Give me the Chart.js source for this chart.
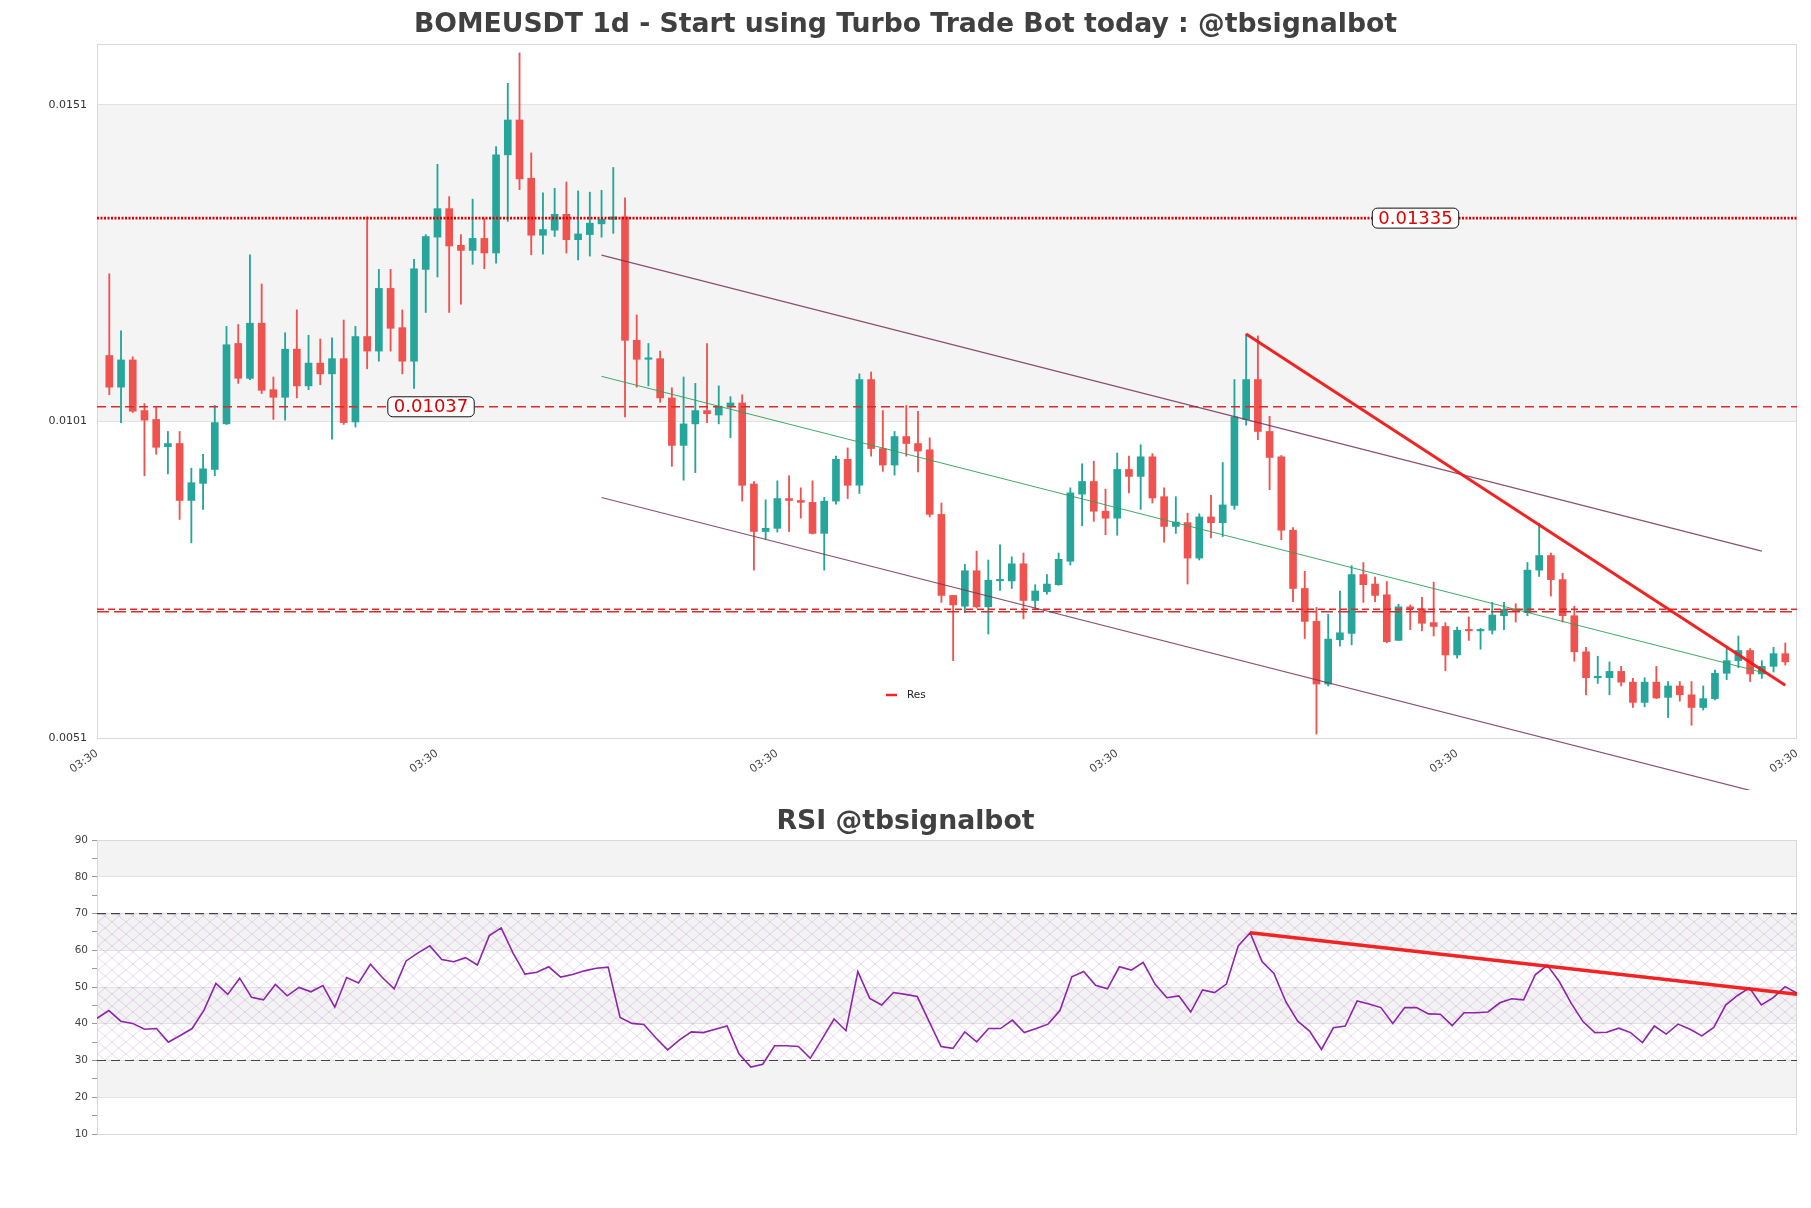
<!DOCTYPE html>
<html>
<head>
<meta charset="utf-8">
<title>BOMEUSDT 1d</title>
<script src="https://cdn.jsdelivr.net/npm/chart.js@4.4.1/dist/chart.umd.min.js"></script>
<style>
  html, body { margin: 0; padding: 0; background: #fff; }
  #wrap { position: relative; width: 1811px; height: 1208px; }
  .panel { position: absolute; left: 0; width: 1811px; }
  #main-box { top: 0; height: 790px; }
  #rsi-box { top: 790px; height: 418px; }
</style>
</head>
<body>
<div id="wrap">
  <div class="panel" id="main-box"><canvas id="main-chart"></canvas></div>
  <div class="panel" id="rsi-box"><canvas id="rsi-chart"></canvas></div>
</div>
<script>
// ---- data (daily candles, oldest first) ----
const openP = [
  0.01118,0.01068,0.01111,0.01031,0.01017,0.00974,0.00979,0.00889,0.00916,0.00938,0.01010,0.01137,
  0.01082,0.01169,0.01064,0.01052,0.01128,0.01070,0.01106,0.01089,0.01113,0.01013,0.01148,0.01125,
  0.01224,0.01162,0.01109,0.01254,0.01305,0.01350,0.01292,0.01284,0.01303,0.01280,0.01435,0.01490,
  0.01398,0.01308,0.01316,0.01341,0.01301,0.01309,0.01326,0.01333,0.01337,0.01142,0.01112,0.01113,
  0.01051,0.00976,0.01010,0.01031,0.01024,0.01037,0.01043,0.00915,0.00840,0.00845,0.00892,0.00889,
  0.00886,0.00837,0.00888,0.00954,0.00913,0.01080,0.00971,0.00945,0.00990,0.00979,0.00969,0.00867,
  0.00739,0.00722,0.00778,0.00721,0.00762,0.00762,0.00789,0.00731,0.00745,0.00756,0.00793,0.00899,
  0.00919,0.00872,0.00861,0.00938,0.00927,0.00958,0.00895,0.00848,0.00854,0.00798,0.00863,0.00854,
  0.00881,0.01017,0.01080,0.00998,0.00958,0.00842,0.00750,0.00698,0.00599,0.00669,0.00679,0.00772,
  0.00757,0.00740,0.00668,0.00721,0.00718,0.00696,0.00690,0.00645,0.00684,0.00683,0.00684,0.00707,
  0.00717,0.00712,0.00779,0.00802,0.00764,0.00707,0.00650,0.00609,0.00609,0.00619,0.00602,0.00570,
  0.00602,0.00578,0.00596,0.00582,0.00562,0.00576,0.00616,0.00636,0.00652,0.00615,0.00627,0.00647
];
const highP = [
  0.01247,0.01157,0.01116,0.01042,0.01037,0.00998,0.00998,0.00940,0.00962,0.01039,0.01164,0.01167,
  0.01277,0.01231,0.01084,0.01154,0.01190,0.01150,0.01144,0.01146,0.01174,0.01164,0.01337,0.01254,
  0.01254,0.01190,0.01270,0.01309,0.01420,0.01369,0.01309,0.01365,0.01335,0.01448,0.01548,0.01596,
  0.01438,0.01375,0.01382,0.01392,0.01378,0.01376,0.01379,0.01415,0.01367,0.01182,0.01137,0.01125,
  0.01067,0.01084,0.01074,0.01137,0.01070,0.01053,0.01056,0.00919,0.00890,0.00920,0.00928,0.00909,
  0.00920,0.00894,0.00959,0.00972,0.01089,0.01092,0.01031,0.00998,0.01039,0.01030,0.00988,0.00885,
  0.00739,0.00788,0.00809,0.00795,0.00819,0.00800,0.00806,0.00756,0.00772,0.00806,0.00909,0.00947,
  0.00951,0.00907,0.00964,0.00959,0.00977,0.00963,0.00909,0.00895,0.00869,0.00868,0.00897,0.00949,
  0.01080,0.01152,0.01149,0.01022,0.00960,0.00846,0.00777,0.00720,0.00709,0.00746,0.00786,0.00791,
  0.00768,0.00761,0.00725,0.00724,0.00736,0.00760,0.00696,0.00689,0.00705,0.00687,0.00728,0.00728,
  0.00726,0.00791,0.00853,0.00806,0.00774,0.00722,0.00657,0.00643,0.00634,0.00627,0.00608,0.00609,
  0.00627,0.00603,0.00603,0.00603,0.00596,0.00621,0.00655,0.00675,0.00655,0.00636,0.00657,0.00664
];
const lowP = [
  0.01056,0.01012,0.01028,0.00928,0.00962,0.00931,0.00859,0.00822,0.00875,0.00928,0.01009,0.01074,
  0.01080,0.01058,0.01017,0.01016,0.01051,0.01064,0.01072,0.00986,0.01009,0.01005,0.01097,0.01109,
  0.01125,0.01089,0.01066,0.01186,0.01242,0.01186,0.01199,0.01262,0.01255,0.01264,0.01330,0.01380,
  0.01277,0.01278,0.01306,0.01280,0.01269,0.01275,0.01305,0.01311,0.01021,0.01068,0.01070,0.01044,
  0.00943,0.00921,0.00933,0.01012,0.01010,0.00988,0.00888,0.00779,0.00828,0.00839,0.00840,0.00861,
  0.00836,0.00779,0.00883,0.00892,0.00900,0.00959,0.00935,0.00929,0.00959,0.00934,0.00863,0.00728,
  0.00636,0.00712,0.00719,0.00678,0.00747,0.00750,0.00702,0.00719,0.00741,0.00755,0.00787,0.00849,
  0.00856,0.00835,0.00834,0.00901,0.00875,0.00885,0.00823,0.00837,0.00757,0.00795,0.00830,0.00832,
  0.00875,0.01008,0.00985,0.00906,0.00827,0.00729,0.00671,0.00520,0.00596,0.00659,0.00661,0.00728,
  0.00729,0.00664,0.00668,0.00685,0.00683,0.00675,0.00620,0.00640,0.00668,0.00654,0.00678,0.00685,
  0.00697,0.00707,0.00769,0.00738,0.00697,0.00635,0.00582,0.00600,0.00582,0.00596,0.00562,0.00563,
  0.00576,0.00546,0.00572,0.00534,0.00558,0.00574,0.00606,0.00625,0.00603,0.00608,0.00618,0.00629
];
const closeP = [
  0.01068,0.01111,0.01030,0.01016,0.00973,0.00979,0.00889,0.00917,0.00939,0.01012,0.01135,0.01082,
  0.01169,0.01063,0.01052,0.01128,0.01070,0.01106,0.01089,0.01113,0.01012,0.01148,0.01125,0.01224,
  0.01161,0.01109,0.01255,0.01306,0.01350,0.01291,0.01284,0.01303,0.01280,0.01435,0.01490,0.01397,
  0.01308,0.01317,0.01341,0.01301,0.01310,0.01327,0.01333,0.01337,0.01142,0.01112,0.01113,0.01051,
  0.00976,0.01010,0.01031,0.01026,0.01038,0.01043,0.00913,0.00840,0.00845,0.00892,0.00889,0.00886,
  0.00837,0.00888,0.00954,0.00913,0.01080,0.00971,0.00945,0.00990,0.00979,0.00967,0.00867,0.00739,
  0.00724,0.00778,0.00721,0.00763,0.00763,0.00789,0.00731,0.00746,0.00757,0.00796,0.00901,0.00919,
  0.00872,0.00861,0.00938,0.00927,0.00958,0.00893,0.00848,0.00855,0.00798,0.00863,0.00854,0.00882,
  0.01021,0.01080,0.00998,0.00957,0.00842,0.00750,0.00698,0.00599,0.00670,0.00680,0.00772,0.00756,
  0.00739,0.00666,0.00721,0.00718,0.00695,0.00690,0.00645,0.00684,0.00683,0.00684,0.00708,0.00717,
  0.00715,0.00779,0.00802,0.00764,0.00707,0.00650,0.00609,0.00611,0.00619,0.00602,0.00570,0.00602,
  0.00577,0.00596,0.00582,0.00562,0.00576,0.00616,0.00636,0.00652,0.00615,0.00627,0.00647,0.00634
];
const rsiValues = [
  41.5,43.6,40.7,40.1,38.5,38.7,35.0,36.8,38.7,43.7,51.0,48.0,
  52.4,47.2,46.5,50.7,47.6,49.9,48.7,50.4,44.5,52.6,51.1,56.2,
  52.6,49.5,57.1,59.3,61.2,57.5,56.9,58.0,56.0,64.0,66.1,59.2,
  53.5,54.0,55.5,52.7,53.4,54.4,55.1,55.4,41.7,40.1,39.8,36.2,
  32.9,35.6,37.8,37.6,38.5,39.4,31.8,28.2,29.0,34.0,34.0,33.8,
  30.6,35.9,41.3,38.1,54.2,46.9,45.1,48.5,48.0,47.4,40.6,33.8,
  33.3,37.8,35.1,38.7,38.7,41.0,37.6,38.7,39.9,43.6,52.8,54.2,
  50.5,49.5,55.5,54.6,56.7,50.8,47.1,47.6,43.2,49.2,48.5,50.8,
  61.2,64.8,56.9,53.7,46.0,40.7,38.0,33.0,38.9,39.4,46.2,45.4,
  44.4,40.1,44.4,44.4,42.7,42.6,39.5,43.0,43.0,43.2,45.7,46.8,
  46.5,53.4,55.9,51.5,45.6,40.6,37.6,37.7,38.8,37.6,34.9,39.4,
  37.2,39.9,38.5,36.7,39.0,45.1,47.7,49.8,45.1,47.1,50.1,48.3
];

// horizontal levels
const levelValues = [0.01037, 0.01335];
const levelTexts = ["0.01037", "0.01335"];
const lowLevels = [0.007172, 0.007132];

// trend channel (candle index -> price)
const channelX = [42, 141];
const channelUpper = [0.012765, 0.00809];
const channelMid = [0.010851, 0.006177];
const channelLower = [0.008937, 0.004263];
const resX = [97, 143];
const resY = [0.01152, 0.005971];

// RSI trend line and bounds
const rsiTrendX = [97, 143];
const rsiTrendY = [64.8, 48.0];
const rsiBounds = [30, 70];

// axes
const xTickLabels = ["03:30", "03:30", "03:30", "03:30", "03:30", "03:30"];
const yTickValues = [0.005138, 0.010138, 0.015138];
const yTickLabels = ["0.0051", "0.0101", "0.0151"];

const GREEN = "#26a69a";
const RED = "#ef5350";
const RES_RED = "rgba(240, 24, 24, 0.95)";
const CHANNEL = "rgba(120, 50, 85, 0.85)";
const X_MIN = -1.05;
const X_MAX = 144.0;
const SIDE_PAD = 14;
const AXIS_W = 97 - SIDE_PAD;

Chart.defaults.font.family = "'DejaVu Sans', sans-serif";
Chart.defaults.color = "#333";

/**
 * Alternating grey bands, optional hatch, and a light frame round the plot
 */
function makePanelPlugin(cfg) {
  return {
    id: "panel",
    beforeDraw(chart) {
      const { ctx, chartArea: a } = chart;
      const y = chart.scales.y;
      ctx.save();
      ctx.fillStyle = cfg.bandColor;
      cfg.bands.forEach(([lo, hi]) => {
        const top = y.getPixelForValue(hi);
        const bot = y.getPixelForValue(lo);
        ctx.fillRect(a.left, top, a.right - a.left, bot - top);
      });
      ctx.restore();
    },
    beforeDatasetsDraw(chart) {
      const { ctx, chartArea: a } = chart;
      const y = chart.scales.y;
      ctx.save();
      if (cfg.hatch) {
        const tile = document.createElement("canvas");
        tile.width = 14;
        tile.height = 12;
        const g = tile.getContext("2d");
        g.strokeStyle = "rgba(180, 120, 205, 0.35)";
        g.lineWidth = 0.8;
        g.beginPath();
        g.moveTo(0, 0); g.lineTo(14, 12);
        g.moveTo(14, 0); g.lineTo(0, 12);
        g.stroke();
        ctx.fillStyle = ctx.createPattern(tile, "repeat");
        const top = y.getPixelForValue(cfg.hatch[1]);
        const bot = y.getPixelForValue(cfg.hatch[0]);
        ctx.fillRect(a.left, top, a.right - a.left, bot - top);
      }
      ctx.strokeStyle = "#d9d9d9";
      ctx.lineWidth = 1;
      ctx.strokeRect(a.left + 0.5, a.top + 0.5, a.right - a.left - 1, a.bottom - a.top);
      ctx.restore();
    },
  };
}

// value tags on the horizontal levels
const levelTagPlugin = {
  id: "levelTags",
  afterDatasetsDraw(chart) {
    const { ctx } = chart;
    const xs = chart.scales.x;
    const ys = chart.scales.y;
    const anchors = [27.45, 111.45];
    ctx.save();
    ctx.font = "18px 'DejaVu Sans'";
    levelValues.forEach((v, i) => {
      const cx = xs.getPixelForValue(anchors[i]);
      const cy = ys.getPixelForValue(v);
      const w = ctx.measureText(levelTexts[i]).width + 12;
      const h = 20;
      ctx.beginPath();
      ctx.roundRect(cx - w / 2, cy - h / 2, w, h, 5);
      ctx.fillStyle = "#fff";
      ctx.fill();
      ctx.strokeStyle = "#111";
      ctx.lineWidth = 1;
      ctx.stroke();
      ctx.fillStyle = "#e00000";
      ctx.textAlign = "center";
      ctx.textBaseline = "middle";
      ctx.fillText(levelTexts[i], cx, cy + 1);
    });
    ctx.restore();
  },
};

// small legend inside the plot, bottom centre
const resLegendPlugin = {
  id: "resLegend",
  afterDatasetsDraw(chart) {
    const { ctx, chartArea } = chart;
    const ds = chart.data.datasets.find((d) => d.showInLegend);
    const cx = chart.width / 2;
    const cy = chartArea.bottom - 43;
    ctx.save();
    ctx.strokeStyle = ds.borderColor;
    ctx.lineWidth = 2.5;
    ctx.beginPath();
    ctx.moveTo(cx - 19.5, cy);
    ctx.lineTo(cx - 8.5, cy);
    ctx.stroke();
    ctx.fillStyle = "#222";
    ctx.font = "10.5px 'DejaVu Sans'";
    ctx.textAlign = "left";
    ctx.textBaseline = "middle";
    ctx.fillText(ds.label, cx + 1.5, cy);
    ctx.restore();
  },
};

function segment(xs, ys) {
  return xs.map((x, i) => ({ x: x, y: ys[i] }));
}
function hline(v) {
  return [{ x: X_MIN, y: v }, { x: X_MAX, y: v }];
}

const candleColors = closeP.map((c, i) => (c >= openP[i] ? GREEN : RED));

new Chart(document.getElementById("main-chart"), {
  type: "bar",
  data: {
    datasets: [
      {
        label: "Res",
        type: "line",
        showInLegend: true,
        data: segment(resX, resY),
        borderColor: RES_RED,
        borderWidth: 3,
        pointRadius: 0,
        order: 0,
      },
      {
        label: "Upper",
        type: "line",
        data: segment(channelX, channelUpper),
        borderColor: CHANNEL,
        borderWidth: 1.2,
        pointRadius: 0,
        order: 1,
      },
      {
        label: "Mid",
        type: "line",
        data: segment(channelX, channelMid),
        borderColor: "rgba(45, 160, 85, 0.9)",
        borderWidth: 1,
        pointRadius: 0,
        order: 1,
      },
      {
        label: "Lower",
        type: "line",
        data: segment(channelX, channelLower),
        borderColor: CHANNEL,
        borderWidth: 1.2,
        pointRadius: 0,
        clip: false,
        order: 1,
      },
      {
        label: "Level high",
        type: "line",
        data: hline(levelValues[1]),
        borderColor: "#e00000",
        borderWidth: 2.6,
        borderDash: [2, 1.5],
        pointRadius: 0,
        order: 2,
      },
      {
        label: "Level mid",
        type: "line",
        data: hline(levelValues[0]),
        borderColor: "#e02a2a",
        borderWidth: 1.4,
        borderDash: [9, 5],
        pointRadius: 0,
        order: 2,
      },
      {
        label: "Low a",
        type: "line",
        data: hline(lowLevels[0]),
        borderColor: "#e02a2a",
        borderWidth: 1.3,
        borderDash: [7, 4],
        pointRadius: 0,
        order: 2,
      },
      {
        label: "Low b",
        type: "line",
        data: hline(lowLevels[1]),
        borderColor: "#e02a2a",
        borderWidth: 1.3,
        borderDash: [12, 5],
        pointRadius: 0,
        order: 2,
      },
      {
        label: "Body",
        data: openP.map((o, i) => ({ x: i, y: [o, closeP[i]] })),
        backgroundColor: candleColors,
        barThickness: 7,
        minBarLength: 1.5,
        grouped: false,
        order: 3,
      },
      {
        label: "Wick",
        data: lowP.map((l, i) => ({ x: i, y: [l, highP[i]] })),
        backgroundColor: candleColors,
        barThickness: 1.2,
        grouped: false,
        order: 4,
      },
    ],
  },
  options: {
    responsive: true,
    maintainAspectRatio: false,
    animation: false,
    events: [],
    layout: { padding: { left: SIDE_PAD, right: SIDE_PAD, top: 0, bottom: 0 } },
    plugins: {
      legend: { display: false },
      tooltip: { enabled: false },
      title: {
        display: true,
        text: "BOMEUSDT 1d - Start using Turbo Trade Bot today : @tbsignalbot",
        color: "#404040",
        font: { size: 26.7, weight: "bold" },
        padding: { top: 9.5, bottom: 2.5 },
      },
    },
    scales: {
      x: {
        type: "linear",
        min: X_MIN,
        max: X_MAX,
        offset: false,
        grid: { display: false, offset: false },
        border: { display: false },
        afterBuildTicks: (axis) => {
          const step = (X_MAX - X_MIN) / (xTickLabels.length - 1);
          axis.ticks = xTickLabels.map((_, i) => ({ value: X_MIN + i * step }));
        },
        afterFit: (axis) => {
          axis.height = 52;
        },
        ticks: {
          autoSkip: false,
          minRotation: 35,
          maxRotation: 35,
          color: "#444",
          font: { size: 11 },
          padding: 1,
          callback: (v, i) => xTickLabels[i],
        },
      },
      y: {
        min: 0.005138,
        max: 0.0161,
        beginAtZero: false,
        border: { display: false },
        grid: { color: "#e2e2e2", tickColor: "rgba(0,0,0,0)", tickLength: 5 },
        afterBuildTicks: (axis) => {
          axis.ticks = yTickValues.map((v) => ({ value: v }));
        },
        afterFit: (axis) => {
          axis.width = AXIS_W;
        },
        ticks: {
          color: "#333",
          font: { size: 11 },
          padding: 5,
          callback: (v, i) => yTickLabels[i],
        },
      },
    },
  },
  plugins: [
    makePanelPlugin({ bandColor: "#f4f4f4", bands: [[yTickValues[1], yTickValues[2]]] }),
    levelTagPlugin,
    resLegendPlugin,
  ],
});

new Chart(document.getElementById("rsi-chart"), {
  type: "line",
  data: {
    datasets: [
      {
        label: "RSI trend",
        data: segment(rsiTrendX, rsiTrendY),
        borderColor: RES_RED,
        borderWidth: 3.5,
        pointRadius: 0,
        order: 0,
      },
      {
        label: "RSI",
        data: rsiValues.map((v, i) => ({ x: i, y: v })),
        borderColor: "#8e24aa",
        borderWidth: 1.6,
        pointRadius: 0,
        tension: 0,
        order: 1,
      },
      {
        label: "Overbought",
        data: [{ x: 0, y: rsiBounds[1] }, { x: rsiValues.length - 1, y: rsiBounds[1] }],
        borderColor: "#444",
        borderWidth: 1.2,
        borderDash: [9, 5],
        pointRadius: 0,
        order: 2,
      },
      {
        label: "Oversold",
        data: [{ x: 0, y: rsiBounds[0] }, { x: rsiValues.length - 1, y: rsiBounds[0] }],
        borderColor: "#444",
        borderWidth: 1.2,
        borderDash: [9, 5],
        pointRadius: 0,
        order: 2,
      },
    ],
  },
  options: {
    responsive: true,
    maintainAspectRatio: false,
    animation: false,
    events: [],
    layout: { padding: { left: SIDE_PAD, right: SIDE_PAD, top: 0, bottom: 74 } },
    plugins: {
      legend: { display: false },
      tooltip: { enabled: false },
      title: {
        display: true,
        text: "RSI @tbsignalbot",
        color: "#404040",
        font: { size: 26.7, weight: "bold" },
        padding: { top: 16.5, bottom: 1.5 },
      },
    },
    scales: {
      x: {
        type: "linear",
        min: 0,
        max: rsiValues.length - 1,
        display: false,
      },
      y: {
        min: 10,
        max: 90,
        border: { display: false },
        afterFit: (axis) => {
          axis.width = AXIS_W;
        },
        grid: {
          color: (ctx) => (ctx.tick && ctx.tick.value % 10 === 0 ? "#e2e2e2" : "rgba(0,0,0,0)"),
          tickColor: "#999",
          tickLength: 5,
        },
        ticks: {
          stepSize: 5,
          autoSkip: false,
          color: "#444",
          font: { size: 10.5 },
          padding: 4,
          callback: (v) => (v % 10 === 0 ? String(v) : ""),
        },
      },
    },
  },
  plugins: [
    makePanelPlugin({
      bandColor: "#f3f3f3",
      bands: [[20, 30], [40, 50], [60, 70], [80, 90]],
      hatch: rsiBounds,
    }),
  ],
});
</script>
</body>
</html>
